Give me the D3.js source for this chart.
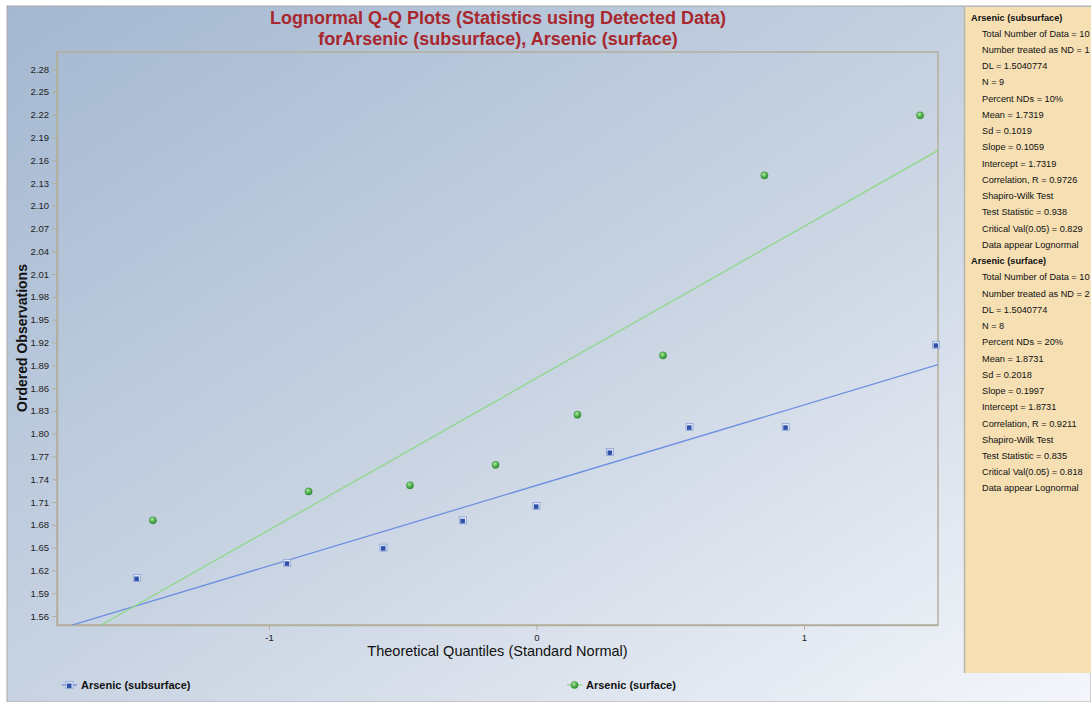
<!DOCTYPE html>
<html><head><meta charset="utf-8">
<script src="https://cdn.jsdelivr.net/npm/d3@7"></script>
<style>
body{margin:0;padding:0;background:#fff;}
svg{display:block;font-family:Arial,"Liberation Sans",sans-serif;}
</style></head>
<body><div id="chart"></div>
<script>
// ---- data ----
const subsurfaceQ = [-1.494, -0.932, -0.572, -0.275, 0.0, 0.275, 0.572, 0.932, 1.494];
const subsurfaceObs = [1.610, 1.630, 1.650, 1.686, 1.705, 1.776, 1.809, 1.809, 1.917];
const surfaceQ = [-1.434, -0.852, -0.473, -0.153, 0.153, 0.473, 0.852, 1.434];
const surfaceObs = [1.686, 1.724, 1.732, 1.759, 1.825, 1.903, 2.140, 2.219];
const fitSubsurface = {slope: 0.1059, intercept: 1.7319};
const fitSurface = {slope: 0.1997, intercept: 1.8731};
const yTicks = [1.56,1.59,1.62,1.65,1.68,1.71,1.74,1.77,1.80,1.83,1.86,1.89,1.92,1.95,1.98,2.01,2.04,2.07,2.10,2.13,2.16,2.19,2.22,2.25,2.28];
const xTicks = [-1, 0, 1];
const seriesNames = ["Arsenic (subsurface)", "Arsenic (surface)"];
const titleLines = ["Lognormal Q-Q Plots (Statistics using Detected Data)", "forArsenic (subsurface), Arsenic (surface)"];
const statsSubsurface = ["Total Number of Data = 10","Number treated as ND = 1","DL = 1.5040774","N = 9","Percent NDs = 10%","Mean = 1.7319","Sd = 0.1019","Slope = 0.1059","Intercept = 1.7319","Correlation, R = 0.9726","Shapiro-Wilk Test","Test Statistic = 0.938","Critical Val(0.05) = 0.829","Data appear Lognormal"];
const statsSurface = ["Total Number of Data = 10","Number treated as ND = 2","DL = 1.5040774","N = 8","Percent NDs = 20%","Mean = 1.8731","Sd = 0.2018","Slope = 0.1997","Intercept = 1.8731","Correlation, R = 0.9211","Shapiro-Wilk Test","Test Statistic = 0.835","Critical Val(0.05) = 0.818","Data appear Lognormal"];

const W = 1091, H = 702;
const plot = {l: 57, r: 938, t: 52, b: 625};
const svg = d3.select("#chart").append("svg").attr("width", W).attr("height", H);
const defs = svg.append("defs");
const bg = defs.append("linearGradient").attr("id","bg").attr("x1","0").attr("y1","0").attr("x2","1").attr("y2","1");
bg.append("stop").attr("offset","0%").attr("stop-color","#a4b8d1");
bg.append("stop").attr("offset","55%").attr("stop-color","#ccd6e4");
bg.append("stop").attr("offset","100%").attr("stop-color","#f4f6fb");
const gg = defs.append("radialGradient").attr("id","gdot").attr("cx","40%").attr("cy","35%").attr("r","65%");
gg.append("stop").attr("offset","0%").attr("stop-color","#b6e6a8");
gg.append("stop").attr("offset","60%").attr("stop-color","#4cb04a");
gg.append("stop").attr("offset","100%").attr("stop-color","#2f8a32");
defs.append("clipPath").attr("id","clip").append("rect")
  .attr("x", plot.l).attr("y", plot.t).attr("width", plot.r-plot.l).attr("height", plot.b-plot.t);

svg.append("rect").attr("x",7).attr("y",6).attr("width",W-7).attr("height",H-6)
  .attr("fill","url(#bg)").attr("stroke","#a9a9a9").attr("stroke-width",1);

const x = d3.scaleLinear().domain([-1.7925, 1.501]).range([plot.l, plot.r]);
const y = d3.scaleLinear().domain([1.5482, 2.3024]).range([plot.b, plot.t]);

// plot frame
svg.append("rect").attr("x",plot.l).attr("y",plot.t).attr("width",plot.r-plot.l).attr("height",plot.b-plot.t)
  .attr("fill","none").attr("stroke","#b4ae9c").attr("stroke-width",1.5);

// axes
const yAxis = svg.append("g").attr("transform",`translate(${plot.l},0)`)
  .call(d3.axisLeft(y).tickValues(yTicks).tickFormat(d3.format(".2f")).tickSize(5).tickSizeOuter(0).tickPadding(3));
const xAxis = svg.append("g").attr("transform",`translate(0,${plot.b})`)
  .call(d3.axisBottom(x).tickValues(xTicks).tickFormat(d => String(d)).tickSize(5).tickSizeOuter(0).tickPadding(4));
[yAxis, xAxis].forEach(a => {
  a.select(".domain").attr("stroke","#b4ae9c").attr("stroke-width",1.5);
  a.selectAll(".tick line").attr("stroke","#b4ae9c");
  a.selectAll(".tick text").attr("fill","#222").style("font-size","9.5px").style("font-family","Arial, 'Liberation Sans', sans-serif");
});

// fit lines
const g = svg.append("g").attr("clip-path","url(#clip)");
const xd = x.domain();
const fits = [{f: fitSubsurface, c: "#6d8fe0"}, {f: fitSurface, c: "#8fd88a"}];
fits.forEach(s => {
  g.append("line")
    .attr("x1", x(xd[0])).attr("y1", y(s.f.intercept + s.f.slope*xd[0]))
    .attr("x2", x(xd[1])).attr("y2", y(s.f.intercept + s.f.slope*xd[1]))
    .attr("stroke", s.c).attr("stroke-width", 1.3);
});

// markers
function blueSquare(sel){
  sel.append("rect").attr("x",-3.5).attr("y",-3.5).attr("width",7).attr("height",7)
    .attr("fill","#dfe6f5").attr("stroke","#8aa2d8").attr("stroke-width",0.8);
  sel.append("rect").attr("x",-2.5).attr("y",-1.5).attr("width",4.5).attr("height",4.5).attr("fill","#2f4fa8");
}
function greenDot(sel){
  sel.append("circle").attr("r",3.6).attr("fill","url(#gdot)").attr("stroke","#3d8f3c").attr("stroke-width",0.5);
}
svg.append("g").selectAll("g").data(subsurfaceQ.map((q,i)=>[q, subsurfaceObs[i]])).join("g")
  .attr("transform", d => `translate(${x(d[0])},${y(d[1])})`).each(function(){ blueSquare(d3.select(this)); });
svg.append("g").selectAll("g").data(surfaceQ.map((q,i)=>[q, surfaceObs[i]])).join("g")
  .attr("transform", d => `translate(${x(d[0])},${y(d[1])})`).each(function(){ greenDot(d3.select(this)); });

// titles
svg.append("g").selectAll("text").data(titleLines).join("text")
  .attr("x", 498).attr("y", (d,i)=> 24 + i*21).attr("text-anchor","middle")
  .attr("fill","#a8272d").style("font-size","18px").style("font-weight","bold").text(d=>d);
svg.append("text").attr("x", 497.5).attr("y", 656).attr("text-anchor","middle")
  .attr("fill","#111").style("font-size","14.5px").text("Theoretical Quantiles (Standard Normal)");
svg.append("text").attr("transform","translate(27,338) rotate(-90)").attr("text-anchor","middle")
  .attr("fill","#111").style("font-size","14px").style("font-weight","bold").text("Ordered Observations");

// legend
const leg = [{x0: 62, c: "#6d8fe0", m: blueSquare}, {x0: 567, c: "#8fd88a", m: greenDot}];
leg.forEach((l,i) => {
  const lg = svg.append("g").attr("transform",`translate(${l.x0},685)`);
  lg.append("line").attr("x1",0).attr("x2",15).attr("stroke",l.c).attr("stroke-width",1.3);
  l.m(lg.append("g").attr("transform","translate(7.5,0)"));
  lg.append("text").attr("x",19).attr("y",4).attr("fill","#111").style("font-size","11px").style("font-weight","bold").text(seriesNames[i]);
});

// stats panel
svg.append("rect").attr("x",964).attr("y",7).attr("width",W-964).attr("height",666)
  .attr("fill","#f5dfb3");
svg.append("line").attr("x1",964.5).attr("x2",964.5).attr("y1",7).attr("y2",673).attr("stroke","#b8b4a8").attr("stroke-width",1.5);
const lines = [];
lines.push({t: seriesNames[0], h: true});
statsSubsurface.forEach(t=>lines.push({t, h:false}));
lines.push({t: seriesNames[1], h: true});
statsSurface.forEach(t=>lines.push({t, h:false}));
svg.append("g").selectAll("text").data(lines).join("text")
  .attr("x", d => d.h ? 971 : 982).attr("y", (d,i)=> 20.5 + i*16.24)
  .attr("fill","#111").style("font-size","9.2px").style("font-weight", d=> d.h ? "bold" : "normal")
  .text(d=>d.t);
</script></body></html>
